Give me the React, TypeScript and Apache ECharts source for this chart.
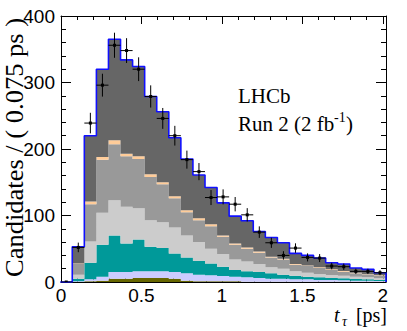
import React, { useEffect, useRef } from 'react';
import * as echarts from 'echarts';

// Histogram binning (27 bins of 0.075 ps starting at -0.005 ps)
const binStart = -0.005;
const binWidth = 0.075;

// Stacked fit components, bottom to top (candidates per bin)
const olive = [0, 0, 1, 2, 5, 5, 6, 6, 6, 5, 2, 1, 1, 1, 1, 0.5, 0.5, 0.5, 0.5, 0.5, 0.5, 0.3, 0.3, 0.3, 0.2, 0.2, 0.2];
const lavender = [0, 1, 3, 6, 10, 10, 10, 10, 10, 10, 11, 10, 9, 8, 7, 6.5, 5.5, 4.5, 4.5, 3.5, 3.5, 2.7, 2.7, 2.2, 1.8, 1.8, 1.3];
const teal = [0, 4, 25, 48, 55, 43, 48, 37, 35, 28, 24, 21, 18, 14, 10, 9, 9, 8, 6, 5.5, 4, 4, 3, 3, 2.5, 2, 1.5];
const lightGray = [0, 6, 32, 48, 53, 55, 47, 40, 39, 39, 33, 28, 22, 19, 16, 15, 12, 9, 9, 6.5, 6, 5, 4.5, 4, 3.5, 3, 2.5];
const midGray = [0, 16, 56, 80, 84, 76, 74, 65, 57, 44, 35, 33, 34, 26, 22, 19, 17, 15, 14, 10, 10, 9, 7.5, 6, 5, 4.5, 4];
const peach = [0, 1, 4, 4, 6, 4, 4, 4, 3, 3, 3, 3, 3, 2, 2, 2, 2, 1, 1, 1, 1, 1, 1, 1, 1, 0.5, 0.5];
const darkGray = [0, 25, 99, 132, 152, 141, 135, 117, 106, 88, 77, 65, 55, 49, 41, 40, 30, 29, 24, 16, 15, 14, 10, 10.5, 7, 7, 4];

// Observed candidates per bin
const dataCounts = [0, 52, 239, 296, 356, 348, 320, 279, 246, 220, 184, 166, 127, 128, 117, 101, 75, 59, 40, 51, 37, 36, 24, 23, 16, 16, 14];

// Axis ticks
const xTicks = [0, 0.5, 1, 1.5, 2];
const yTicks = [0, 100, 200, 300, 400];

const layers = [olive, lavender, teal, lightGray, midGray, peach, darkGray];
const layerColors = ['#666600', '#ccccff', '#009999', '#cccccc', '#999999', '#ffcc99', '#666666'];

const SERIF = '"Liberation Serif", "Times New Roman", serif';
const SANS = '"Liberation Sans", Arial, Helvetica, sans-serif';

export default function App() {
  const ref = useRef<HTMLDivElement>(null);

  useEffect(() => {
    document.body.style.margin = '0';
    if (!ref.current) return;
    const chart = echarts.init(ref.current, null, { renderer: 'svg' });

    const nBins = dataCounts.length;
    // cumulative stacks
    const cum: number[][] = [new Array(nBins).fill(0)];
    layers.forEach((arr, j) => {
      cum.push(arr.map((v, i) => cum[j][i] + v));
    });
    const totals = cum[layers.length];

    const layerSeries = layers.map((_, j) => ({
      type: 'custom',
      clip: true,
      silent: true,
      z: 2,
      data: [[0, 0]],
      renderItem: (params: any, api: any) => {
        const pts: number[][] = [];
        for (let i = 0; i < nBins; i++) {
          const x0 = binStart + i * binWidth;
          const x1 = x0 + binWidth;
          const top = cum[j + 1][i];
          pts.push(api.coord([x0, top]), api.coord([x1, top]));
        }
        for (let i = nBins - 1; i >= 0; i--) {
          const x0 = binStart + i * binWidth;
          const x1 = x0 + binWidth;
          const base = cum[j][i];
          pts.push(api.coord([x1, base]), api.coord([x0, base]));
        }
        return { type: 'polygon', shape: { points: pts }, style: { fill: layerColors[j] } };
      },
    }));

    const outline: number[][] = [[binStart, 0]];
    totals.forEach((t, i) => {
      const x0 = binStart + i * binWidth;
      outline.push([x0, t], [x0 + binWidth, t]);
    });
    outline.push([binStart + nBins * binWidth, 0]);

    const points = dataCounts.map((v, i) => [binStart + (i + 0.5) * binWidth, v]);

    const axisCommon = {
      axisLine: { show: true, onZero: false, lineStyle: { color: '#000', width: 1 } },
      splitLine: { show: false },
    };

    const fmtX = (v: number) => {
      const k = xTicks.find((t) => Math.abs(t - v) < 1e-6);
      return k === undefined ? '' : String(k);
    };
    const fmtY = (v: number) => {
      const k = yTicks.find((t) => Math.abs(t - v) < 1e-6);
      return k === undefined ? '' : String(k);
    };

    chart.setOption({
      animation: false,
      grid: { left: 61, top: 16, width: 325, height: 266, containLabel: false },
      xAxis: [
        {
          type: 'value', position: 'bottom', min: 0, max: 2.02, interval: 0.5,
          ...axisCommon,
          axisTick: { show: true, inside: true, length: 8, lineStyle: { color: '#000' } },
          minorTick: { show: true, splitNumber: 5, length: 4, lineStyle: { color: '#000' } },
          axisLabel: { show: true, formatter: fmtX, fontFamily: SANS, fontSize: 19, lineHeight: 15, color: '#000', margin: 6 },
        },
        {
          type: 'value', position: 'top', min: 0, max: 2.02, interval: 0.5,
          ...axisCommon,
          axisTick: { show: true, inside: true, length: 8, lineStyle: { color: '#000' } },
          minorTick: { show: true, splitNumber: 5, length: 4, lineStyle: { color: '#000' } },
          axisLabel: { show: false },
        },
      ],
      yAxis: [
        {
          type: 'value', position: 'left', min: 0, max: 400, interval: 100,
          ...axisCommon,
          axisTick: { show: true, inside: true, length: 10, lineStyle: { color: '#000' } },
          minorTick: { show: true, splitNumber: 5, length: 5, lineStyle: { color: '#000' } },
          axisLabel: { show: true, formatter: fmtY, fontFamily: SANS, fontSize: 19, color: '#000', margin: 6 },
        },
        {
          type: 'value', position: 'right', min: 0, max: 400, interval: 100,
          ...axisCommon,
          axisTick: { show: true, inside: true, length: 10, lineStyle: { color: '#000' } },
          minorTick: { show: true, splitNumber: 5, length: 5, lineStyle: { color: '#000' } },
          axisLabel: { show: false },
        },
      ],
      series: [
        ...layerSeries,
        {
          type: 'line',
          data: outline,
          symbol: 'none',
          clip: true,
          silent: true,
          z: 3,
          lineStyle: { color: '#1010ff', width: 1.6 },
        },
        {
          type: 'custom',
          clip: true,
          silent: true,
          z: 4,
          data: points,
          renderItem: (params: any, api: any) => {
            const x = api.value(0);
            const y = api.value(1);
            const err = Math.sqrt(y);
            const c = api.coord([x, y]);
            const l = api.coord([x - binWidth / 2, y]);
            const r = api.coord([x + binWidth / 2, y]);
            const t = api.coord([x, y + err]);
            const b = api.coord([x, y - err]);
            const children: any[] = [
              { type: 'line', shape: { x1: l[0], y1: l[1], x2: r[0], y2: r[1] }, style: { stroke: '#000', lineWidth: 1 } },
              { type: 'rect', shape: { x: c[0] - 1.5, y: c[1] - 1.5, width: 3, height: 3 }, style: { fill: '#000' } },
            ];
            if (err > 0) {
              children.push({ type: 'line', shape: { x1: t[0], y1: t[1], x2: b[0], y2: b[1] }, style: { stroke: '#000', lineWidth: 1 } });
            }
            return { type: 'group', children };
          },
        },
      ],
      graphic: [
        {
          type: 'text', x: 15, y: 18, rotation: Math.PI / 2, scaleX: 1.06,
          style: { text: 'Candidates / ( 0.075 ps )', font: `25px ${SERIF}`, fill: '#000', align: 'right', verticalAlign: 'middle' },
        },
        {
          type: 'text', x: 238, y: 96,
          style: { text: 'LHCb', font: `21px ${SERIF}`, fill: '#000', align: 'left', verticalAlign: 'middle' },
        },
        {
          type: 'text', x: 238, y: 124,
          style: { text: 'Run 2 (2 fb', font: `21px ${SERIF}`, fill: '#000', align: 'left', verticalAlign: 'middle' },
        },
        {
          type: 'text', x: 334, y: 117,
          style: { text: '-1', font: `14px ${SERIF}`, fill: '#000', align: 'left', verticalAlign: 'middle' },
        },
        {
          type: 'text', x: 346, y: 124,
          style: { text: ')', font: `21px ${SERIF}`, fill: '#000', align: 'left', verticalAlign: 'middle' },
        },
        {
          type: 'text', x: 334, y: 315,
          style: { text: 't', font: `italic 20px ${SERIF}`, lineHeight: 15, fill: '#000', align: 'left', verticalAlign: 'middle' },
        },
        {
          type: 'text', x: 342, y: 321,
          style: { text: 'τ', font: `italic 14px ${SERIF}`, lineHeight: 11, fill: '#000', align: 'left', verticalAlign: 'middle' },
        },
        {
          type: 'text', x: 387, y: 315,
          style: { text: '[ps]', font: `20px ${SERIF}`, lineHeight: 15, fill: '#000', align: 'right', verticalAlign: 'middle' },
        },
      ],
    });

    return () => chart.dispose();
  }, []);

  return <div ref={ref} style={{ width: 407, height: 331 }} />;
}
